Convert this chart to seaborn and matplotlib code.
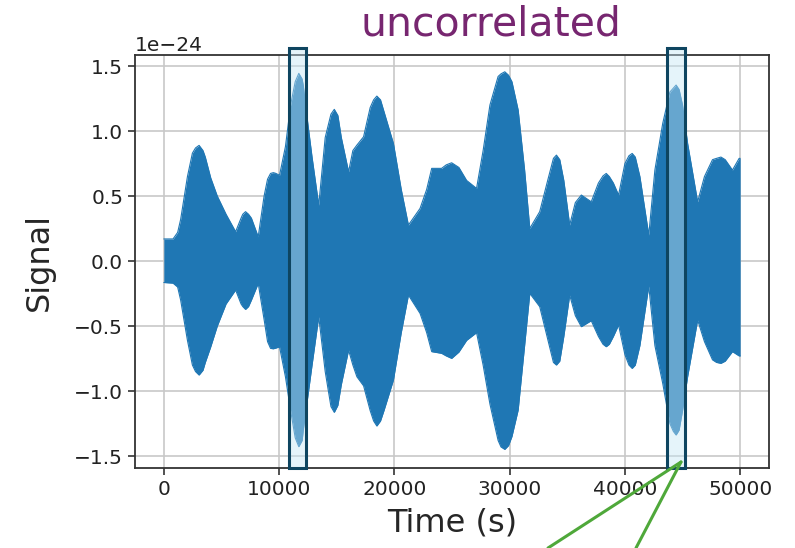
import numpy as np
import pandas as pd
import seaborn as sns
import matplotlib.pyplot as plt
from matplotlib.patches import Rectangle
from matplotlib.lines import Line2D

# envelope of the signal (units of 1e-24)
time_s = [0, 800, 1200, 1460, 2050, 2480, 2750, 3060, 3400, 3600, 4070, 4640, 5400,
          6230, 6700, 6850, 7090, 7350, 7600, 8190, 8700, 9000, 9260, 9500, 9700,
          10040, 10550, 11000, 11400, 11710, 12000, 12100, 12490, 12860, 13440,
          14000, 14500, 14790, 15100, 15400, 16030, 16400, 16750, 17330, 17900,
          18200, 18480, 18800, 19100, 19920, 20600, 21220, 22230, 22800, 23240,
          24100, 24500, 24970, 25600, 26270, 27130, 27700, 28290, 29000, 29250,
          29580, 29900, 30200, 30740, 31300, 31750, 32610, 33300, 33800, 34060,
          34350, 34700, 35210, 35700, 36220, 37080, 37700, 38100, 38380, 38650,
          39000, 39450, 40000, 40350, 40630, 40900, 41300, 42070, 42600, 43280,
          43900, 44200, 44440, 44700, 45000, 45440, 46310, 46900, 47600, 47950,
          48330, 48700, 49330, 49910, 50000]
upper = [0.17, 0.17, 0.22, 0.32, 0.65, 0.83, 0.87, 0.89, 0.85, 0.80, 0.64, 0.50, 0.36,
         0.226, 0.33, 0.36, 0.38, 0.36, 0.33, 0.187, 0.50, 0.63, 0.674, 0.68, 0.675,
         0.66, 0.88, 1.20, 1.38, 1.444, 1.40, 1.35, 1.06, 0.80, 0.43,
         0.95, 1.13, 1.167, 1.12, 0.95, 0.687, 0.85, 0.892, 0.956, 1.18,
         1.24, 1.269, 1.24, 1.15, 0.905, 0.55, 0.277, 0.405, 0.55, 0.713,
         0.713, 0.74, 0.756, 0.72, 0.62, 0.559, 0.85, 1.20, 1.42, 1.44,
         1.456, 1.43, 1.38, 1.162, 0.70, 0.251, 0.38, 0.62, 0.79, 0.815,
         0.78, 0.62, 0.277, 0.45, 0.508, 0.456, 0.60, 0.655, 0.674, 0.65,
         0.60, 0.508, 0.75, 0.81, 0.828, 0.80, 0.65, 0.20, 0.70, 1.059,
         1.30, 1.33, 1.354, 1.32, 1.20, 0.905, 0.456, 0.65, 0.78, 0.79,
         0.80, 0.78, 0.70, 0.79, 0.79]
lower = [-0.165, -0.17, -0.20, -0.30, -0.61, -0.80, -0.85, -0.877, -0.84, -0.78, -0.66, -0.50, -0.33,
         -0.223, -0.33, -0.35, -0.372, -0.35, -0.30, -0.172, -0.45, -0.62, -0.672, -0.675, -0.67,
         -0.66, -0.89, -1.15, -1.36, -1.428, -1.38, -1.30, -1.044, -0.80, -0.428,
         -0.85, -1.12, -1.164, -1.11, -0.95, -0.685, -0.80, -0.89, -0.96, -1.15,
         -1.23, -1.269, -1.23, -1.15, -0.915, -0.55, -0.262, -0.403, -0.55, -0.697,
         -0.71, -0.73, -0.749, -0.70, -0.61, -0.551, -0.80, -1.10, -1.38, -1.43,
         -1.449, -1.42, -1.35, -1.146, -0.65, -0.249, -0.351, -0.60, -0.78, -0.80,
         -0.77, -0.58, -0.262, -0.42, -0.505, -0.459, -0.58, -0.64, -0.659, -0.64,
         -0.58, -0.492, -0.72, -0.80, -0.826, -0.80, -0.65, -0.192, -0.65, -0.941,
         -1.25, -1.31, -1.338, -1.30, -1.15, -0.89, -0.454, -0.62, -0.76, -0.78,
         -0.787, -0.77, -0.697, -0.73, -0.73]

# highlighted windows (seconds)
windows = [(10880, 12370), (43640, 45170)]

df = pd.DataFrame({"time": time_s,
                   "upper": np.array(upper) * 1e-24,
                   "lower": np.array(lower) * 1e-24})

sns.set_style("ticks", {"axes.grid": True, "grid.color": "#c8c8c8",
                        "axes.edgecolor": "#333333"})
plt.rcParams["font.family"] = ["DejaVu Sans"]

fig = plt.figure(figsize=(7.95, 5.48), dpi=100)
ax = fig.add_axes([0.1698, 0.146, 0.7975, 0.7536])

blue = "#1f77b4"
sns.lineplot(data=df, x="time", y="upper", ax=ax, color=blue, linewidth=0.8)
sns.lineplot(data=df, x="time", y="lower", ax=ax, color=blue, linewidth=0.8)
ax.fill_between(df["time"], df["lower"], df["upper"], color=blue, linewidth=0)

ax.set_xlim(-2500, 52500)
ax.set_ylim(-1.592e-24, 1.585e-24)
ax.set_xticks([0, 10000, 20000, 30000, 40000, 50000])
ax.set_yticks(np.arange(-1.5, 1.6, 0.5) * 1e-24)
ax.grid(True, color="#c8c8c8", linewidth=1.2)
for s in ax.spines.values():
    s.set_linewidth(1.3)
    s.set_color("#333333")
ax.tick_params(labelsize=14.5, length=5, width=1.2, color="#333333", labelcolor="#222222")
ax.yaxis.get_offset_text().set_fontsize(14.5)
ax.set_xlabel("Time (s)", fontsize=23, labelpad=6)
ax.set_ylabel("Signal", fontsize=23, labelpad=14)

for x0, x1 in windows:
    ax.add_patch(Rectangle((x0, -1.592e-24), x1 - x0, 3.23e-24,
                           facecolor=(0.77, 0.90, 0.96, 0.43), edgecolor="#0e4560",
                           linewidth=2.2, clip_on=False, zorder=5))

fig.text(0.617, 0.955, "uncorrelated", color="#772670", fontsize=29.5,
         ha="center", va="center")

# green pointer lines
green = "#4fa83a"
tip = (681 / 795, 1 - 462 / 548)
for xe in (548, 636):
    fig.add_artist(Line2D([tip[0], xe / 795], [tip[1], 0], transform=fig.transFigure,
                          color=green, linewidth=2.2))

fig.savefig("out.png", dpi=100)
